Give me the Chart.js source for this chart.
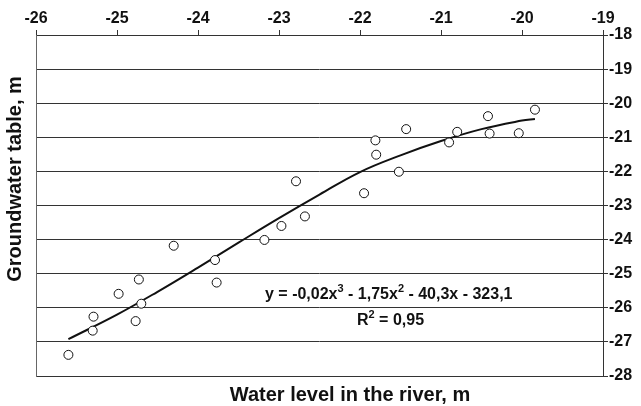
<!DOCTYPE html>
<html>
<head>
<meta charset="utf-8">
<script src="https://cdn.jsdelivr.net/npm/chart.js@4/dist/chart.umd.min.js"></script>
<style>
    body { margin: 0; background: #fff; }
    #wrap { width: 641px; height: 406px; }
</style>
</head>
<body>
<div id="wrap"><canvas id="levelChart"></canvas></div>
<script>
// Data
const riverLevel = [-25.60, -25.30, -25.29, -24.98, -24.77, -24.70, -24.73, -24.30, -23.79, -23.77,
    -23.18, -22.97, -22.79, -22.68, -21.95, -21.81, -21.80, -21.52, -21.43, -20.90,
    -20.80, -20.42, -20.40, -20.04, -19.84];
const groundwater = [-27.38, -26.67, -26.26, -25.59, -26.39, -25.88, -25.17, -24.18, -24.60, -25.26,
    -24.01, -23.60, -22.29, -23.32, -22.64, -21.09, -21.51, -22.01, -20.76, -21.15,
    -20.84, -20.38, -20.89, -20.88, -20.19];
const trendX = [-25.6, -25.0, -24.5, -24.0, -23.5, -23.0, -22.5, -22.0, -21.5, -21.0, -20.5, -20.0, -19.84];
const trendY = [-26.92, -26.20, -25.53, -24.82, -24.09, -23.37, -22.68, -22.02, -21.53, -21.11, -20.76, -20.51, -20.46];
const xRange = [-26, -19];
const yRange = [-28, -18];

const FONT = "'Liberation Sans', Arial, sans-serif";
const INK = "#111";
const LINE = "#333";

// Titles and the regression formula
const textPlugin = {
    id: "figureText",
    afterDraw(chart) {
        const ctx = chart.ctx;
        ctx.save();
        ctx.fillStyle = INK;

        ctx.font = "bold 20px " + FONT;
        ctx.textAlign = "center";
        ctx.textBaseline = "middle";
        ctx.fillText("Water level in the river, m", 350, 395);

        ctx.save();
        ctx.translate(15, 179);
        ctx.rotate(-Math.PI / 2);
        ctx.fillText("Groundwater table, m", 0, 0);
        ctx.restore();

        ctx.textAlign = "left";
        ctx.textBaseline = "alphabetic";
        const drawParts = (parts, x, y) => {
            parts.forEach(([txt, sup]) => {
                ctx.font = sup ? "bold 11px " + FONT : "bold 16px " + FONT;
                ctx.fillText(txt, x, sup ? y - 7 : y);
                x += ctx.measureText(txt).width;
            });
        };
        drawParts([["y = -0,02x", false], ["3", true], [" - 1,75x", false], ["2", true], [" - 40,3x - 323,1", false]], 265, 299);
        drawParts([["R", false], ["2", true], [" = 0,95", false]], 357, 325);
        ctx.restore();
    },
};

const tickFont = { family: FONT, size: 16, weight: "bold" };

const levelChart = new Chart(document.getElementById("levelChart"), {
    type: "scatter",
    data: {
        datasets: [
            {
                label: "Observations",
                data: riverLevel.map((x, i) => ({ x: x, y: groundwater[i] })),
                pointRadius: 4.5,
                pointBorderWidth: 1,
                pointBackgroundColor: "#fff",
                pointBorderColor: "#111",
                xAxisID: "x",
                yAxisID: "y",
            },
            {
                type: "line",
                label: "Trend",
                data: trendX.map((x, i) => ({ x: x, y: trendY[i] })),
                borderColor: "#111",
                borderWidth: 2,
                pointRadius: 0,
                tension: 0.4,
                fill: false,
                xAxisID: "x",
                yAxisID: "y",
            },
        ],
    },
    options: {
        responsive: true,
        maintainAspectRatio: false,
        animation: false,
        layout: { padding: 0 },
        plugins: {
            legend: { display: false },
            tooltip: { enabled: false },
        },
        scales: {
            x: {
                type: "linear",
                position: "top",
                min: xRange[0],
                max: xRange[1],
                ticks: { stepSize: 1, padding: 2, color: INK, font: tickFont },
                grid: { drawOnChartArea: false, tickLength: 5, color: LINE },
                border: { color: LINE },
                afterFit: (s) => { s.height = 35; },
            },
            y: {
                position: "right",
                min: yRange[0],
                max: yRange[1],
                ticks: { stepSize: 1, padding: 1, color: INK, font: tickFont },
                grid: { tickLength: 5, color: LINE },
                border: { color: LINE },
                afterFit: (s) => { s.width = 38; },
            },
            xBottom: {
                type: "linear",
                position: "bottom",
                min: xRange[0],
                max: xRange[1],
                ticks: { display: false },
                grid: { display: false },
                border: { color: LINE },
                afterFit: (s) => { s.height = 30; },
            },
            yLeft: {
                position: "left",
                min: yRange[0],
                max: yRange[1],
                ticks: { display: false },
                grid: { display: false },
                border: { color: "#666" },
                afterFit: (s) => { s.width = 36; },
            },
        },
    },
    plugins: [textPlugin],
});
</script>
</body>
</html>
